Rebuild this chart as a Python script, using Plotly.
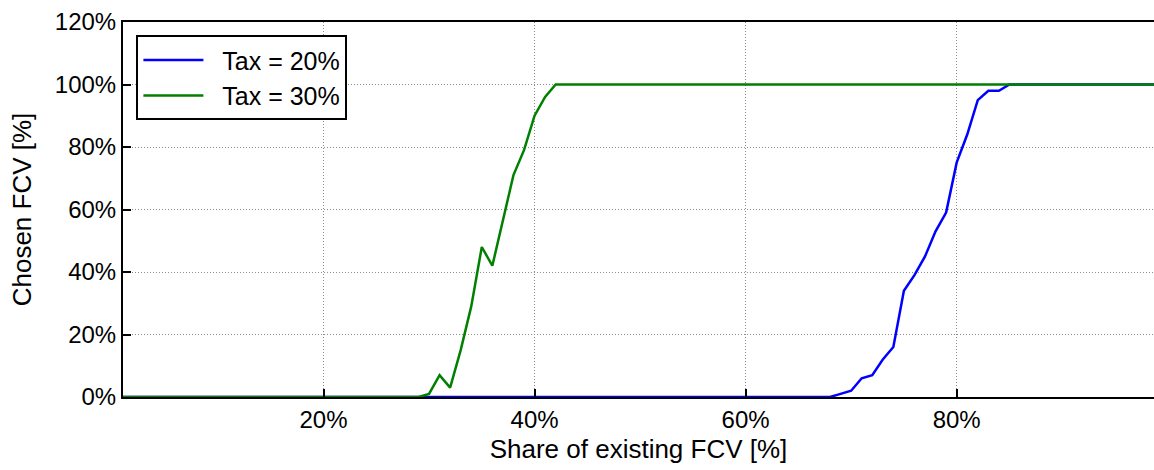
import plotly.graph_objects as go

tax20_x = [1, 68, 69, 70, 71, 72, 73, 74, 75, 76, 77, 78, 79, 80, 81, 82, 83, 84, 85, 99]
tax20_y = [0, 0, 1, 2, 6, 7, 12, 16, 34, 39, 45, 53, 59, 75, 84, 95, 98, 98, 100, 100]

tax30_x = [1, 29, 30, 31, 32, 33, 34, 35, 36, 37, 38, 39, 40, 41, 42, 99]
tax30_y = [0, 0, 1, 7, 3, 15, 29, 48, 42, 56, 71, 79, 90, 96, 100, 100]

series_names = ["Tax = 20%", "Tax = 30%"]

x_ticks = [20, 40, 60, 80]
x_tick_labels = ["20%", "40%", "60%", "80%"]
y_ticks = [0, 20, 40, 60, 80, 100, 120]
y_tick_labels = ["0%", "20%", "40%", "60%", "80%", "100%", "120%"]

font = "Liberation Sans, Arial, sans-serif"
pad = "\u00a0\u00a0"

fig = go.Figure()
fig.add_trace(go.Scatter(x=tax20_x, y=tax20_y, mode="lines", name=pad + series_names[0],
                         line=dict(color="#0000ff", width=2.5)))
fig.add_trace(go.Scatter(x=tax30_x, y=tax30_y, mode="lines", name=pad + series_names[1],
                         line=dict(color="#008000", width=2.5)))

fig.update_layout(
    width=1154, height=470,
    margin=dict(l=123, r=0, t=22, b=73),
    plot_bgcolor="white", paper_bgcolor="white",
    font=dict(family=font, size=24, color="black"),
    legend=dict(x=0.013, y=0.965, xanchor="left", yanchor="top",
                bordercolor="black", borderwidth=2, bgcolor="white",
                font=dict(size=25), tracegroupgap=0, itemwidth=60),
    showlegend=True,
)
fig.update_xaxes(
    range=[1, 98.7], tickvals=x_ticks, ticktext=x_tick_labels,
    showline=True, linecolor="black", linewidth=2, mirror=True,
    ticks="inside", ticklen=8, tickwidth=1.5, tickcolor="black",
    showgrid=True, gridcolor="#8c8c8c", griddash="1px,2px", gridwidth=1,
    zeroline=False,
    title=dict(text="Share of existing FCV [%]", font=dict(size=26), standoff=8),
    tickfont=dict(size=24),
)
fig.update_yaxes(
    range=[0, 120], tickvals=y_ticks, ticktext=y_tick_labels,
    showline=True, linecolor="black", linewidth=2, mirror=False,
    ticks="inside", ticklen=8, tickwidth=1.5, tickcolor="black",
    showgrid=True, gridcolor="#8c8c8c", griddash="1px,2px", gridwidth=1,
    zeroline=False,
    title=dict(text="Chosen FCV [%]", font=dict(size=26), standoff=16),
    tickfont=dict(size=24),
)

fig.write_html("out.html")
